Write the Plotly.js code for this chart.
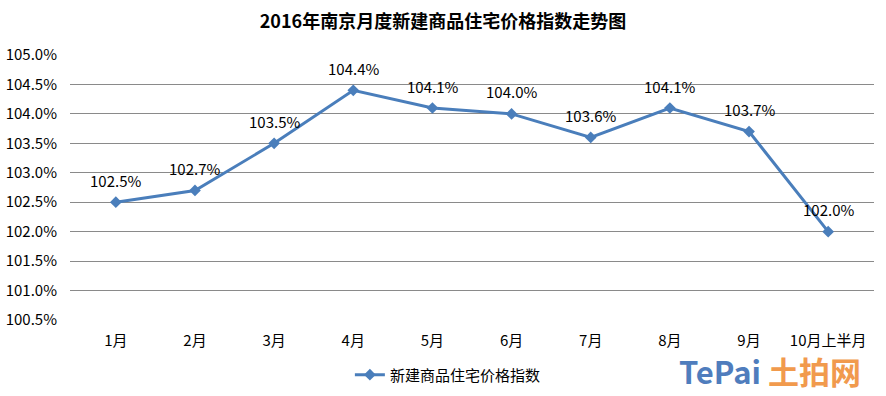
<!DOCTYPE html>
<html>
<head>
<meta charset="utf-8">
<script src="https://cdn.plot.ly/plotly-3.0.1.min.js"></script>
<style>html,body{margin:0;padding:0;background:#fff;}#chart{width:886px;height:396px;}</style>
</head>
<body>
<div id="chart"></div>
<script>
const categories = ['1月','2月','3月','4月','5月','6月','7月','8月','9月','10月上半月'];
const values = [102.5, 102.7, 103.5, 104.4, 104.1, 104.0, 103.6, 104.1, 103.7, 102.0];
const labels = values.map(v => v.toFixed(1) + '%');
const yTicks = [100.5,101.0,101.5,102.0,102.5,103.0,103.5,104.0,104.5,105.0];
const yTickText = yTicks.map(v => v.toFixed(1) + '%');
const seriesName = '新建商品住宅价格指数';
const titleText = '2016年南京月度新建商品住宅价格指数走势图';

const FONT = '"Noto Sans CJK SC", "Microsoft YaHei", sans-serif';
const trace = {
  x: categories, y: values, name: seriesName, type: 'scatter',
  mode: 'lines+markers',
  line: {color: '#4a7ebb', width: 3},
  marker: {symbol: 'diamond', size: 9, color: '#4a7ebb'},
  cliponaxis: false
};
const labelAnns = categories.map((c, i) => ({
  x: c, y: values[i], xref: 'x', yref: 'y', text: labels[i], showarrow: false,
  yanchor: 'middle', xanchor: 'center', yshift: 22,
  font: {family: FONT, size: 15, color: '#000'}
}));
const layout = {
  width: 886, height: 396,
  margin: {l: 70, r: 12, t: 55, b: 76, autoexpand: false},
  paper_bgcolor: '#fff', plot_bgcolor: '#fff',
  font: {family: FONT, size: 14, color: '#000'},
  title: {text: '<b>' + titleText + '</b>', font: {family: FONT, size: 18, color: '#000'}, x: 0.5, xanchor: 'center', y: 0.945, yanchor: 'middle'},
  xaxis: {type: 'category', showgrid: false, zeroline: false, showline: false, ticks: '', tickfont: {family: FONT, size: 15}, ticklabelstandoff: 10, automargin: false},
  yaxis: {range: [100.5, 105.0], tickvals: yTicks, ticktext: yTickText, showgrid: true, gridcolor: '#8a8a8a', gridwidth: 1, zeroline: false, showline: false, ticks: '', tickfont: {family: FONT, size: 15}, ticklabelstandoff: 12, automargin: false},
  showlegend: true,
  legend: {orientation: 'h', x: 0.47, xanchor: 'center', y: -0.145, yanchor: 'top', font: {family: FONT, size: 15}},
  annotations: labelAnns.concat([
    {xref: 'paper', yref: 'paper', x: 0.755, y: -0.19, xanchor: 'left', yanchor: 'middle', showarrow: false,
     text: '<b><span style="color:#3d6fb6">TePai</span> <span style="color:#f0903a">土拍网</span></b>', font: {family: FONT, size: 31}, opacity: 0.9}
  ])
};
Plotly.newPlot('chart', [trace], layout, {displayModeBar: false, staticPlot: true});
</script>
</body>
</html>
